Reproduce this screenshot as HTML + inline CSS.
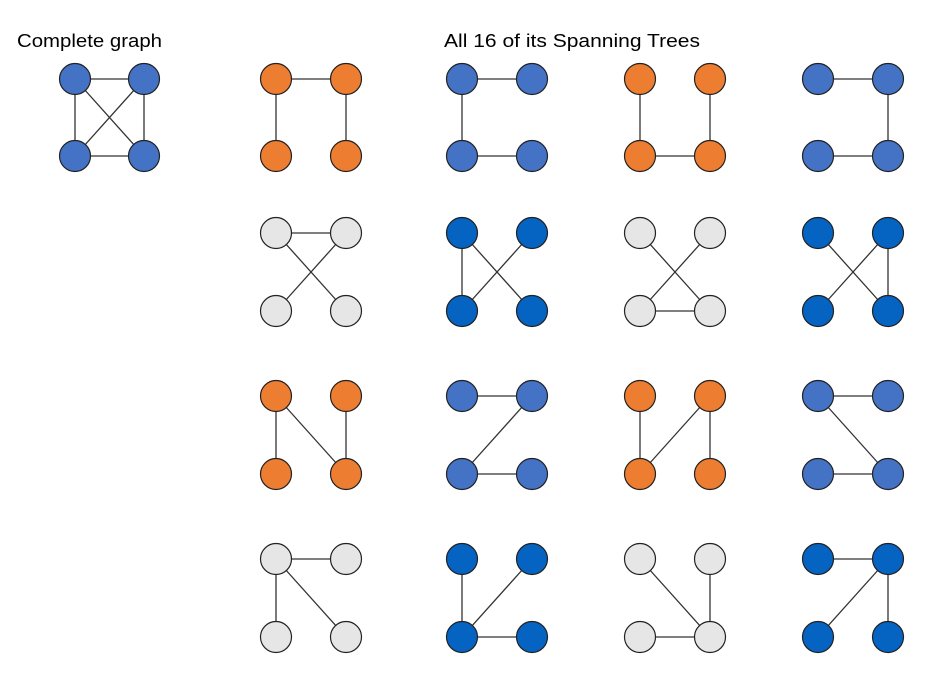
<!DOCTYPE html>
<html><head><meta charset="utf-8"><style>html,body{margin:0;padding:0;background:#fff}svg{display:block}</style></head>
<body>
<svg width="927" height="685" viewBox="0 0 927 685" xmlns="http://www.w3.org/2000/svg" font-family="Liberation Sans, sans-serif">
<text x="17" y="47" font-size="18" textLength="145" lengthAdjust="spacingAndGlyphs" fill="#000">Complete graph</text>
<text x="444" y="47" font-size="18" textLength="256" lengthAdjust="spacingAndGlyphs" fill="#000">All 16 of its Spanning Trees</text>
<g stroke="#333" stroke-width="1.3">
<!-- complete -->
<line x1="75" y1="79" x2="144" y2="79"/><line x1="75" y1="79" x2="75" y2="156"/><line x1="144" y1="79" x2="144" y2="156"/><line x1="75" y1="156" x2="144" y2="156"/><line x1="75" y1="79" x2="144" y2="156"/><line x1="144" y1="79" x2="75" y2="156"/>
<!-- row1 -->
<line x1="276" y1="79" x2="346" y2="79"/><line x1="276" y1="79" x2="276" y2="156"/><line x1="346" y1="79" x2="346" y2="156"/>
<line x1="462" y1="79" x2="532" y2="79"/><line x1="462" y1="79" x2="462" y2="156"/><line x1="462" y1="156" x2="532" y2="156"/>
<line x1="640" y1="79" x2="640" y2="156"/><line x1="710" y1="79" x2="710" y2="156"/><line x1="640" y1="156" x2="710" y2="156"/>
<line x1="818" y1="79" x2="888" y2="79"/><line x1="888" y1="79" x2="888" y2="156"/><line x1="818" y1="156" x2="888" y2="156"/>
<!-- row2 -->
<line x1="276" y1="233" x2="346" y2="233"/><line x1="276" y1="233" x2="346" y2="311"/><line x1="346" y1="233" x2="276" y2="311"/>
<line x1="462" y1="233" x2="462" y2="311"/><line x1="462" y1="233" x2="532" y2="311"/><line x1="532" y1="233" x2="462" y2="311"/>
<line x1="640" y1="233" x2="710" y2="311"/><line x1="710" y1="233" x2="640" y2="311"/><line x1="640" y1="311" x2="710" y2="311"/>
<line x1="818" y1="233" x2="888" y2="311"/><line x1="888" y1="233" x2="818" y2="311"/><line x1="888" y1="233" x2="888" y2="311"/>
<!-- row3 -->
<line x1="276" y1="396" x2="276" y2="474"/><line x1="276" y1="396" x2="346" y2="474"/><line x1="346" y1="396" x2="346" y2="474"/>
<line x1="462" y1="396" x2="532" y2="396"/><line x1="532" y1="396" x2="462" y2="474"/><line x1="462" y1="474" x2="532" y2="474"/>
<line x1="640" y1="396" x2="640" y2="474"/><line x1="710" y1="396" x2="640" y2="474"/><line x1="710" y1="396" x2="710" y2="474"/>
<line x1="818" y1="396" x2="888" y2="396"/><line x1="818" y1="396" x2="888" y2="474"/><line x1="818" y1="474" x2="888" y2="474"/>
<!-- row4 -->
<line x1="276" y1="559" x2="346" y2="559"/><line x1="276" y1="559" x2="276" y2="637"/><line x1="276" y1="559" x2="346" y2="637"/>
<line x1="462" y1="559" x2="462" y2="637"/><line x1="532" y1="559" x2="462" y2="637"/><line x1="462" y1="637" x2="532" y2="637"/>
<line x1="640" y1="559" x2="710" y2="637"/><line x1="710" y1="559" x2="710" y2="637"/><line x1="640" y1="637" x2="710" y2="637"/>
<line x1="818" y1="559" x2="888" y2="559"/><line x1="888" y1="559" x2="818" y2="637"/><line x1="888" y1="559" x2="888" y2="637"/>
</g>
<g stroke="#222" stroke-width="1.2">
<g fill="#4472C4">
<circle cx="75" cy="79" r="15.5"/><circle cx="144" cy="79" r="15.5"/><circle cx="75" cy="156" r="15.5"/><circle cx="144" cy="156" r="15.5"/>
<circle cx="462" cy="79" r="15.5"/><circle cx="532" cy="79" r="15.5"/><circle cx="462" cy="156" r="15.5"/><circle cx="532" cy="156" r="15.5"/>
<circle cx="818" cy="79" r="15.5"/><circle cx="888" cy="79" r="15.5"/><circle cx="818" cy="156" r="15.5"/><circle cx="888" cy="156" r="15.5"/>
<circle cx="462" cy="396" r="15.5"/><circle cx="532" cy="396" r="15.5"/><circle cx="462" cy="474" r="15.5"/><circle cx="532" cy="474" r="15.5"/>
<circle cx="818" cy="396" r="15.5"/><circle cx="888" cy="396" r="15.5"/><circle cx="818" cy="474" r="15.5"/><circle cx="888" cy="474" r="15.5"/>
</g>
<g fill="#ED7D31">
<circle cx="276" cy="79" r="15.5"/><circle cx="346" cy="79" r="15.5"/><circle cx="276" cy="156" r="15.5"/><circle cx="346" cy="156" r="15.5"/>
<circle cx="640" cy="79" r="15.5"/><circle cx="710" cy="79" r="15.5"/><circle cx="640" cy="156" r="15.5"/><circle cx="710" cy="156" r="15.5"/>
<circle cx="276" cy="396" r="15.5"/><circle cx="346" cy="396" r="15.5"/><circle cx="276" cy="474" r="15.5"/><circle cx="346" cy="474" r="15.5"/>
<circle cx="640" cy="396" r="15.5"/><circle cx="710" cy="396" r="15.5"/><circle cx="640" cy="474" r="15.5"/><circle cx="710" cy="474" r="15.5"/>
</g>
<g fill="#E7E6E6">
<circle cx="276" cy="233" r="15.5"/><circle cx="346" cy="233" r="15.5"/><circle cx="276" cy="311" r="15.5"/><circle cx="346" cy="311" r="15.5"/>
<circle cx="640" cy="233" r="15.5"/><circle cx="710" cy="233" r="15.5"/><circle cx="640" cy="311" r="15.5"/><circle cx="710" cy="311" r="15.5"/>
<circle cx="276" cy="559" r="15.5"/><circle cx="346" cy="559" r="15.5"/><circle cx="276" cy="637" r="15.5"/><circle cx="346" cy="637" r="15.5"/>
<circle cx="640" cy="559" r="15.5"/><circle cx="710" cy="559" r="15.5"/><circle cx="640" cy="637" r="15.5"/><circle cx="710" cy="637" r="15.5"/>
</g>
<g fill="#0563C1">
<circle cx="462" cy="233" r="15.5"/><circle cx="532" cy="233" r="15.5"/><circle cx="462" cy="311" r="15.5"/><circle cx="532" cy="311" r="15.5"/>
<circle cx="818" cy="233" r="15.5"/><circle cx="888" cy="233" r="15.5"/><circle cx="818" cy="311" r="15.5"/><circle cx="888" cy="311" r="15.5"/>
<circle cx="462" cy="559" r="15.5"/><circle cx="532" cy="559" r="15.5"/><circle cx="462" cy="637" r="15.5"/><circle cx="532" cy="637" r="15.5"/>
<circle cx="818" cy="559" r="15.5"/><circle cx="888" cy="559" r="15.5"/><circle cx="818" cy="637" r="15.5"/><circle cx="888" cy="637" r="15.5"/>
</g>
</g>
</svg>
</body></html>
